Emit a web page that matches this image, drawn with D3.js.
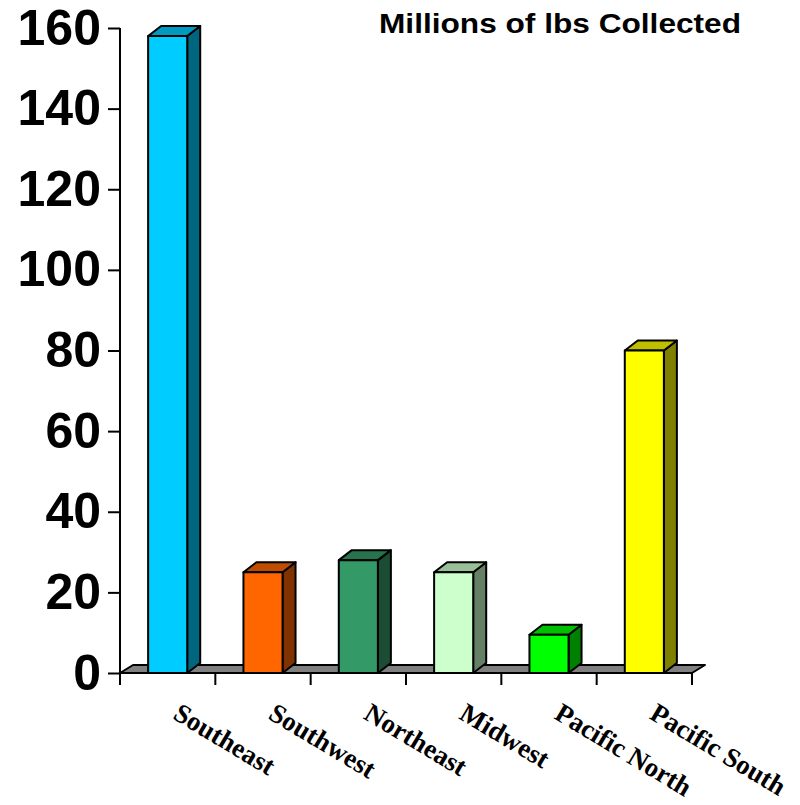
<!DOCTYPE html>
<html>
<head>
<meta charset="utf-8">
<script src="https://cdn.jsdelivr.net/npm/d3@7"></script>
<style>
  html, body { margin: 0; padding: 0; background: #fff; }
  svg { display: block; }
</style>
</head>
<body>
<svg id="chart" width="800" height="805"></svg>
<script>
// Regions and the amount collected in each (millions of lbs)
const categories = ["Southeast", "Southwest", "Northeast", "Midwest", "Pacific North", "Pacific South"];
const values = [158, 25, 28, 25, 9.5, 80];
const frontColors = ["#00CCFF", "#FF6600", "#339966", "#CCFFCC", "#00FF00", "#FFFF00"];
const yTicks = [0, 20, 40, 60, 80, 100, 120, 140, 160];
const title = "Millions of lbs Collected";

const svg = d3.select("#chart");

const plotLeft = 120, plotRight = 692, plotBottom = 673, plotTop = 28;
const depthX = 13, barDepthY = -10, floorDepthY = -8;

const slot = d3.scaleBand().domain(categories).range([plotLeft, plotRight]).padding(0);
const x = d3.scaleBand().domain(categories).range([plotLeft, plotRight])
  .paddingInner(0.59).paddingOuter(0.295);
const y = d3.scaleLinear().domain([0, 160]).range([plotBottom, plotTop]);

const shade = (c, k) => {
  const r = d3.rgb(c);
  return d3.rgb(r.r * k, r.g * k, r.b * k).formatHex();
};

// Floor slab under the columns
svg.append("polygon")
  .attr("points", [
    [plotLeft, y(0)], [plotRight, y(0)],
    [plotRight + depthX, y(0) + floorDepthY], [plotLeft + depthX, y(0) + floorDepthY]
  ].map(p => p.join(",")).join(" "))
  .attr("fill", "#808080")
  .attr("stroke", "#000")
  .attr("stroke-width", 2)
  .attr("stroke-linejoin", "round");

// 3D columns: front face, top and right side
const bars = svg.append("g").selectAll("g")
  .data(categories.map((c, i) => ({ c, v: values[i], col: frontColors[i] })))
  .join("g");

bars.each(function(d) {
  const g = d3.select(this);
  const x0 = x(d.c), x1 = x(d.c) + x.bandwidth();
  const yt = y(d.v), yb = y(0);
  const pts = arr => arr.map(p => p.join(",")).join(" ");
  g.append("polygon")
    .attr("points", pts([[x1, yb], [x1 + depthX, yb + barDepthY], [x1 + depthX, yt + barDepthY], [x1, yt]]))
    .attr("fill", shade(d.col, 0.5));
  g.append("polygon")
    .attr("points", pts([[x0, yt], [x1, yt], [x1 + depthX, yt + barDepthY], [x0 + depthX, yt + barDepthY]]))
    .attr("fill", shade(d.col, 0.75));
  g.append("rect")
    .attr("x", x0).attr("y", yt)
    .attr("width", x1 - x0).attr("height", yb - yt)
    .attr("fill", d.col);
  g.selectAll("polygon, rect")
    .attr("stroke", "#000").attr("stroke-width", 2).attr("stroke-linejoin", "round");
});

// Value axis
const yAxis = svg.append("g")
  .attr("transform", `translate(${plotLeft},0)`)
  .call(d3.axisLeft(y).tickValues(yTicks).tickSize(12).tickPadding(7).tickFormat(d3.format("d")));
yAxis.select(".domain").remove();
yAxis.selectAll(".tick line").attr("stroke", "#000").attr("stroke-width", 2);
yAxis.selectAll(".tick text")
  .attr("font-family", "Arial, 'Liberation Sans', sans-serif")
  .attr("font-weight", "bold")
  .attr("font-size", 50)
  .attr("fill", "#000");
svg.append("line")
  .attr("x1", plotLeft).attr("x2", plotLeft)
  .attr("y1", y(160)).attr("y2", y(0) + 12)
  .attr("stroke", "#000").attr("stroke-width", 2);

// Category axis ticks at slot boundaries
const boundaries = categories.map(c => slot(c)).concat([plotRight]);
svg.append("g").selectAll("line")
  .data(boundaries)
  .join("line")
  .attr("x1", d => d).attr("x2", d => d)
  .attr("y1", y(0)).attr("y2", y(0) + 12)
  .attr("stroke", "#000").attr("stroke-width", 2);

// Rotated category labels
svg.append("g").selectAll("text")
  .data(categories)
  .join("text")
  .attr("transform", c => `translate(${slot(c) + slot.bandwidth() / 2 + 4},${718}) rotate(31)`)
  .attr("text-anchor", "start")
  .attr("font-family", "'Times New Roman', 'Liberation Serif', serif")
  .attr("font-weight", "bold")
  .attr("font-size", 27)
  .attr("fill", "#000")
  .text(c => c);

// Chart title
svg.append("text")
  .attr("x", 379).attr("y", 33)
  .attr("text-anchor", "start")
  .attr("textLength", 362)
  .attr("lengthAdjust", "spacingAndGlyphs")
  .attr("font-family", "Arial, 'Liberation Sans', sans-serif")
  .attr("font-weight", "bold")
  .attr("font-size", 28)
  .attr("fill", "#000")
  .text(title);
</script>
</body>
</html>
